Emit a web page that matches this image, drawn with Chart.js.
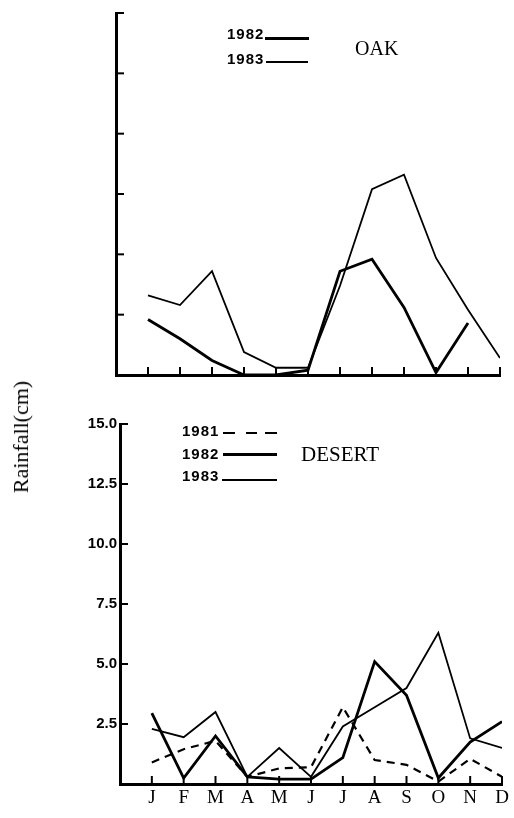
<!DOCTYPE html>
<html><head><meta charset="utf-8">
<script src="https://cdn.jsdelivr.net/npm/chart.js@4.4.0/dist/chart.umd.min.js"></script>
<style>
html,body{margin:0;padding:0;background:#fff;}
#wrap{position:relative;width:514px;height:818px;overflow:hidden;background:#fff;}
canvas{position:absolute;left:0;}
.t{position:absolute;white-space:nowrap;line-height:1;color:#000;}
.lg{font-family:'Liberation Sans',Arial,sans-serif;font-weight:bold;font-size:15px;letter-spacing:1px;}
.ttl{font-family:'Liberation Serif','Times New Roman',serif;}
.ln{position:absolute;background:#000;}
</style></head><body>
<div id="wrap">
<canvas id="oak" width="514" height="395" style="top:0px"></canvas>
<canvas id="desert" width="514" height="423" style="top:395px"></canvas>

<div class="t lg" style="left:227px;top:26px">1982</div>
<div class="ln" style="left:265px;top:37px;width:44px;height:2.5px"></div>
<div class="t lg" style="left:227px;top:51px">1983</div>
<div class="ln" style="left:266px;top:61px;width:42px;height:1.5px"></div>
<div class="t ttl" style="left:355px;top:38px;font-size:20px">OAK</div>

<div class="t lg" style="left:182px;top:423px">1981</div>
<div class="ln" style="left:223px;top:432px;width:12px;height:2px"></div>
<div class="ln" style="left:246px;top:432px;width:11px;height:2px"></div>
<div class="ln" style="left:265px;top:432px;width:12px;height:2px"></div>
<div class="t lg" style="left:182px;top:446px">1982</div>
<div class="ln" style="left:223px;top:453px;width:54px;height:2.5px"></div>
<div class="t lg" style="left:182px;top:468px">1983</div>
<div class="ln" style="left:222px;top:479px;width:55px;height:1.5px"></div>
<div class="t ttl" style="left:301px;top:444px;font-size:21px">DESERT</div>

<div class="t ttl" style="left:21px;top:437px;font-size:22px;transform:translate(-50%,-50%) rotate(-90deg);">Rainfall(cm)</div>
</div>
<script>
const months = ['J','F','M','A','M','J','J','A','S','O','N','D'];
const yTickLabels = ['', '2.5', '5.0', '7.5', '10.0', '12.5', '15.0'];

const oak1982 = [2.3, 1.5, 0.6, 0, 0, 0.2, 4.3, 4.8, 2.8, 0.1, 2.15, null];
const oak1983 = [3.3, 2.9, 4.3, 0.95, 0.3, 0.3, 3.7, 7.7, 8.3, 4.85, 2.7, 0.7];

const desert1981 = [0.9, 1.45, 1.8, 0.3, 0.65, 0.7, 3.2, 1.0, 0.8, 0.1, 1.05, 0.3];
const desert1982 = [2.95, 0.25, 2.0, 0.3, 0.2, 0.2, 1.1, 5.1, 3.7, 0.25, 1.75, 2.6];
const desert1983 = [2.3, 1.95, 3.0, 0.3, 1.5, 0.3, 2.4, 3.2, 4.0, 6.3, 1.9, 1.5];

const toPts = arr => arr.map((v, i) => ({x: i, y: v}));

const inwardTicks = {
  id: 'inwardTicks',
  afterDraw(chart) {
    const {ctx, chartArea: a, scales: {x, y}} = chart;
    ctx.save();
    ctx.strokeStyle = '#000';
    ctx.lineWidth = 2;
    months.forEach((m, i) => {
      const px = x.getPixelForValue(i);
      ctx.beginPath(); ctx.moveTo(px, a.bottom); ctx.lineTo(px, a.bottom - 8); ctx.stroke();
    });
    y.ticks.forEach(t => {
      const py = y.getPixelForValue(t.value);
      ctx.beginPath(); ctx.moveTo(a.left, py); ctx.lineTo(a.left + 8, py); ctx.stroke();
    });
    ctx.restore();
  }
};

function makeChart(id, datasets, o) {
  return new Chart(document.getElementById(id), {
    type: 'line',
    data: {datasets},
    options: {
      responsive: false,
      animation: false,
      layout: {padding: o.padding},
      plugins: {legend: {display: false}, tooltip: {enabled: false}},
      elements: {point: {radius: 0}, line: {tension: 0, borderJoinStyle: 'miter'}},
      scales: {
        x: {
          type: 'linear', min: -1, max: 11,
          grid: {display: true, drawOnChartArea: false, drawTicks: false},
          border: {display: true, width: 3, color: '#000'},
          ticks: {
            display: o.showX, stepSize: 1, autoSkip: false, maxRotation: 0, padding: 3,
            color: '#000', font: {family: "'Liberation Serif', serif", size: 19},
            callback: v => (months[v] !== undefined ? months[v] : '')
          },
          afterFit: s => { s.height = o.xHeight; }
        },
        y: {
          type: 'linear', min: 0, max: 15,
          grid: {display: true, drawOnChartArea: false, drawTicks: false},
          border: {display: true, width: 3, color: '#000'},
          ticks: {
            display: o.showY, stepSize: 2.5, padding: 3, color: '#000',
            font: {family: "'Liberation Sans', Arial, sans-serif", size: 15, weight: 'bold'},
            callback: (v, i) => yTickLabels[i]
          },
          afterFit: s => { s.width = o.yWidth; }
        }
      }
    },
    plugins: [inwardTicks]
  });
}

makeChart('oak', [
  {label: '1982', data: toPts(oak1982), borderColor: '#000', borderWidth: 2.8, fill: false, spanGaps: false},
  {label: '1983', data: toPts(oak1983), borderColor: '#000', borderWidth: 1.8, fill: false}
], {padding: {left: 116, right: 14, top: 13, bottom: 20}, showX: false, showY: false, xHeight: 0, yWidth: 0});

makeChart('desert', [
  {label: '1981', data: toPts(desert1981), borderColor: '#000', borderWidth: 2.2, borderDash: [8, 6], fill: false},
  {label: '1982', data: toPts(desert1982), borderColor: '#000', borderWidth: 2.8, fill: false},
  {label: '1983', data: toPts(desert1983), borderColor: '#000', borderWidth: 1.8, fill: false}
], {padding: {left: 0, right: 12, top: 29, bottom: 0}, showX: true, showY: true, xHeight: 34, yWidth: 120});
</script>
</body></html>
